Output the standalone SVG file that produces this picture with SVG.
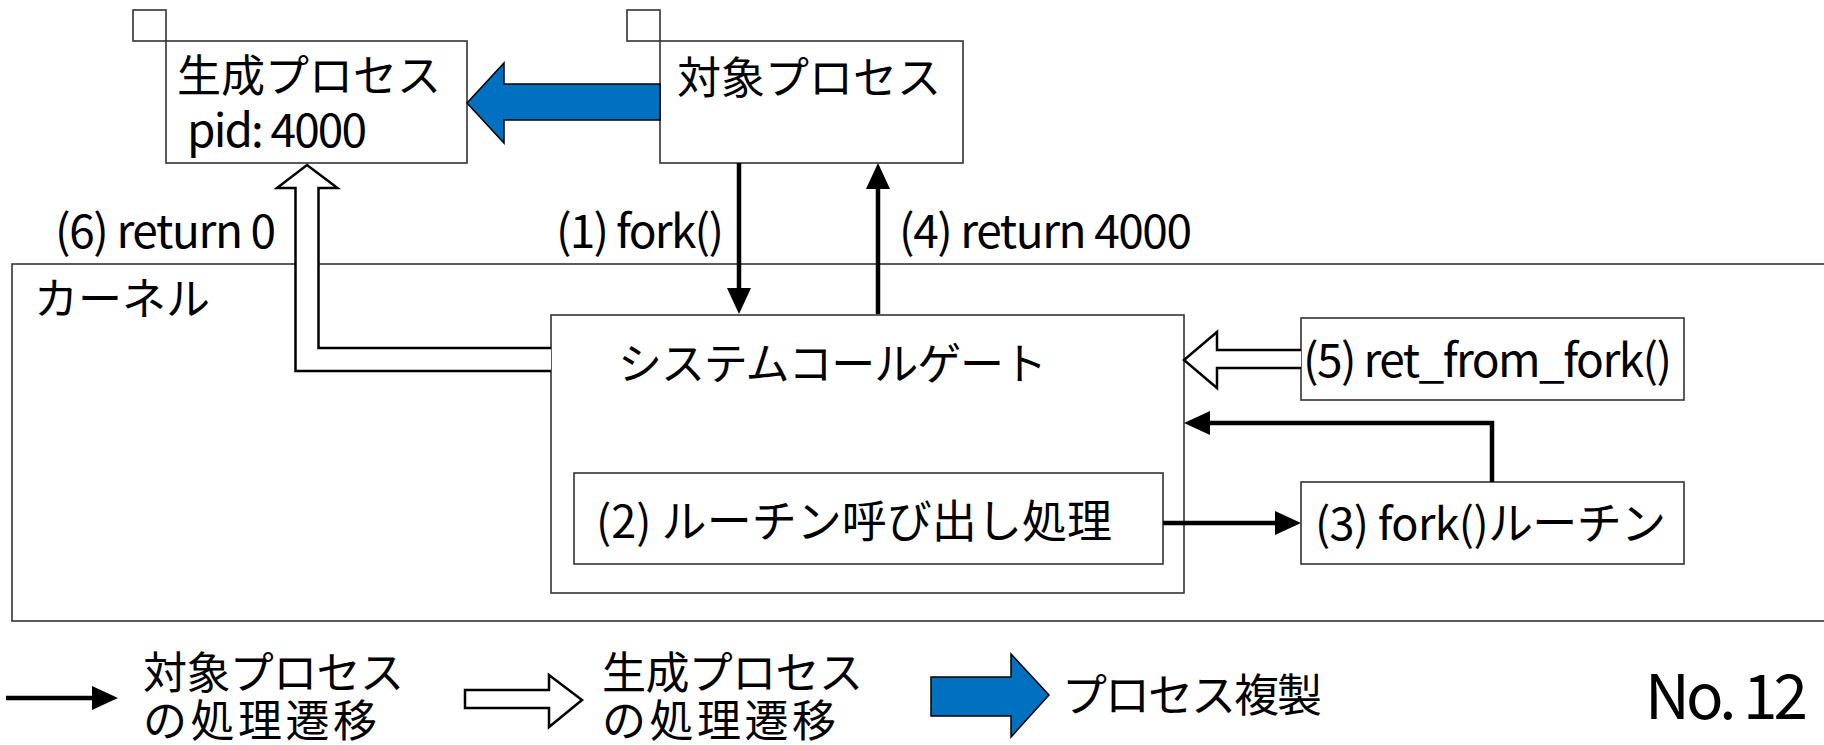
<svg xmlns="http://www.w3.org/2000/svg" width="1824" height="745" viewBox="0 0 1824 745">
<style>
  text { font-family: "Noto Sans CJK JP", "Noto Sans", sans-serif; fill: #000; }
  .box { fill: #fff; stroke: #333; stroke-width: 1.6; }
  .thick { fill: none; stroke: #000; stroke-width: 4.5; }
  .hollow { fill: #fff; stroke: #000; stroke-width: 2.5; stroke-linejoin: miter; }
  .blue { fill: #0070C0; stroke: #000; stroke-width: 1.5; }
  .t44 { font-size: 44px; }
  .t46 { font-size: 46px; }
  .t45 { font-size: 45px; }
</style>
<defs>
  <marker id="ah" viewBox="0 0 26 24" refX="0" refY="12" markerWidth="26" markerHeight="24" markerUnits="userSpaceOnUse" orient="auto">
    <path d="M0,0 L26,12 L0,24 z" fill="#000"/>
  </marker>
</defs>

<g id="kernel">
  <rect class="box" x="12" y="264" width="1830" height="357"/>
  <text class="t44" x="34" y="315">カーネル</text>
</g>

<g id="gen-process">
  <rect class="box" x="133" y="10" width="33" height="31"/>
  <rect class="box" x="166" y="41" width="301" height="122"/>
  <text class="t44" x="177" y="92">生成プロセス</text>
  <text class="t46" x="187" y="147" textLength="180" lengthAdjust="spacing">pid: 4000</text>
</g>

<g id="target-process">
  <rect class="box" x="627" y="10" width="33" height="31"/>
  <rect class="box" x="660" y="41" width="303" height="122"/>
  <text class="t44" x="677" y="94">対象プロセス</text>
</g>

<g id="syscall-gate">
  <rect class="box" x="551" y="315" width="633" height="278"/>
  <text class="t44" x="618" y="380" textLength="429" lengthAdjust="spacing">システムコールゲート</text>
</g>

<g id="routine-call">
  <rect class="box" x="574" y="473" width="589" height="91"/>
  <text class="t45" x="596" y="538" textLength="516" lengthAdjust="spacing">(2) ルーチン呼び出し処理</text>
</g>

<g id="ret-from-fork">
  <rect class="box" x="1301" y="318" width="383" height="82"/>
  <text class="t46" x="1303" y="377" textLength="369" lengthAdjust="spacing">(5) ret_from_fork()</text>
</g>

<g id="fork-routine">
  <rect class="box" x="1301" y="482" width="383" height="82"/>
  <text class="t45" x="1315" y="540" textLength="351" lengthAdjust="spacing">(3) fork()ルーチン</text>
</g>

<g id="connectors">
  <polygon class="blue" points="660,84 504,84 504,63 467,103 504,143 504,120 660,120"/>
  <path class="thick" d="M739,163 V288" marker-end="url(#ah)"/>
  <path class="thick" d="M878,314 V189" marker-end="url(#ah)"/>
  <path class="thick" d="M1492,482 V423 H1210" marker-end="url(#ah)"/>
  <path class="thick" d="M1163,523 H1275" marker-end="url(#ah)"/>
  <polyline class="hollow" points="551,348 318.5,348 318.5,188 337.5,188 307,165 277,188 295.5,188 295.5,371 551,371"/>
  <polyline class="hollow" points="1301,350 1217,350 1217,332 1184,360 1217,388 1217,368 1301,368"/>
  <text class="t46" x="55" y="248" textLength="221" lengthAdjust="spacing">(6) return 0</text>
  <text class="t46" x="556" y="248" textLength="168" lengthAdjust="spacing">(1) fork()</text>
  <text class="t46" x="899" y="248" textLength="293" lengthAdjust="spacing">(4) return 4000</text>
</g>

<g id="legend">
  <path class="thick" d="M6,698 H92" marker-end="url(#ah)"/>
  <text class="t44" x="143" y="689" textLength="261" lengthAdjust="spacing">対象プロセス</text>
  <text class="t44" x="143" y="737" textLength="234" lengthAdjust="spacing">の処理遷移</text>
  <polygon class="hollow" points="465,690 549,690 549,675 582,700 549,727 549,708 465,708"/>
  <text class="t44" x="602" y="689" textLength="261" lengthAdjust="spacing">生成プロセス</text>
  <text class="t44" x="602" y="737" textLength="234" lengthAdjust="spacing">の処理遷移</text>
  <polygon class="blue" points="931,677 1011,677 1011,654 1049,695 1011,737 1011,716 931,716"/>
  <text class="t45" x="1062" y="712" textLength="260" lengthAdjust="spacing">プロセス複製</text>
</g>

<g id="page-number">
  <text x="1645" y="719" font-size="62" textLength="163" lengthAdjust="spacing">No. 12</text>
</g>
</svg>
